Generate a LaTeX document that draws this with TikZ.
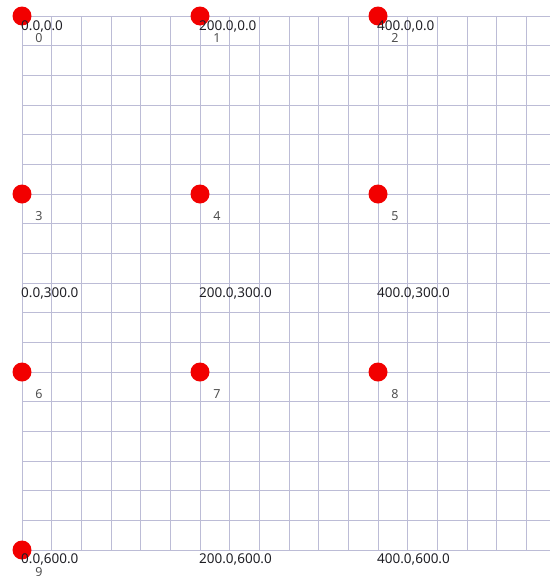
\documentclass[tikz,border=0pt]{standalone}
\usepackage{fontspec}
\setmainfont{Noto Sans}
\usepackage{tikz}
\definecolor{gridblue}{RGB}{188,188,214}
\definecolor{dotred}{RGB}{242,0,0}
\definecolor{labeldark}{RGB}{30,30,36}
\definecolor{indexgray}{RGB}{80,80,80}
\tikzset{
  gridline/.style={color=gridblue, line width=0.9pt},
  ptdot/.style={circle, fill=dotred, minimum size=19pt, inner sep=0pt},
  coordlbl/.style={anchor=west, inner sep=0pt,
    font=\fontsize{13.5}{15}\selectfont, text=labeldark},
  idxlbl/.style={inner sep=0pt,
    font=\fontsize{12.5}{14}\selectfont, text=indexgray}
}

\begin{document}
\begin{tikzpicture}[x=1pt, y=-1pt]
  \useasboundingbox (0,0) rectangle (550,576);

  % Grid
  \foreach \i in {0,...,17}
    \draw[gridline] (22+29.67*\i,16) -- (22+29.67*\i,550);
  \foreach \j in {0,...,18}
    \draw[gridline] (22,16+29.67*\j) -- (550,16+29.67*\j);

  % Points
  \node[ptdot] (p0) at (22,16) {};
  \node[ptdot] (p1) at (200,16) {};
  \node[ptdot] (p2) at (378,16) {};
  \node[ptdot] (p3) at (22,194) {};
  \node[ptdot] (p4) at (200,194) {};
  \node[ptdot] (p5) at (378,194) {};
  \node[ptdot] (p6) at (22,372) {};
  \node[ptdot] (p7) at (200,372) {};
  \node[ptdot] (p8) at (378,372) {};
  \node[ptdot] (p9) at (22,550) {};

  % Point indices
  \foreach \k in {0,...,9}
    \node[idxlbl] (n\k) at ([xshift=17pt, yshift=-22pt]p\k.center) {\k};

  % Coordinate labels
  \node[coordlbl] (c00) at (21,26) {0.0,0.0};
  \node[coordlbl] (c10) at (199,26) {200.0,0.0};
  \node[coordlbl] (c20) at (377,26) {400.0,0.0};
  \node[coordlbl] (c01) at (21,293) {0.0,300.0};
  \node[coordlbl] (c11) at (199,293) {200.0,300.0};
  \node[coordlbl] (c21) at (377,293) {400.0,300.0};
  \node[coordlbl] (c02) at (21,559) {0.0,600.0};
  \node[coordlbl] (c12) at (199,559) {200.0,600.0};
  \node[coordlbl] (c22) at (377,559) {400.0,600.0};
\end{tikzpicture}
\end{document}
